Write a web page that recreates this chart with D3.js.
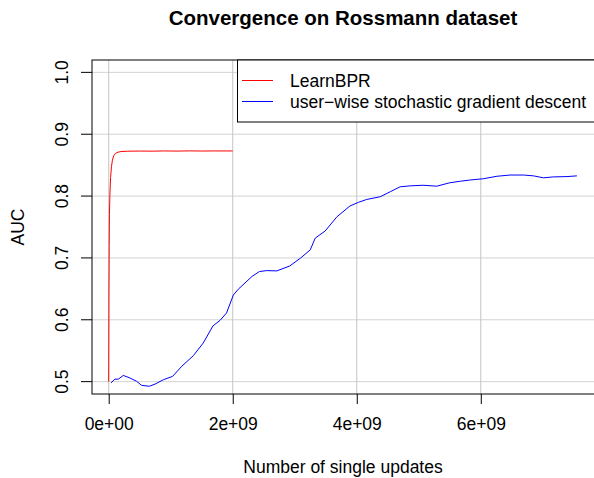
<!DOCTYPE html>
<html>
<head>
<meta charset="utf-8">
<script src="https://cdn.jsdelivr.net/npm/d3@7"></script>
<style>
  body { margin: 0; background: #fff; }
  text { font-family: "Liberation Sans", Arial, sans-serif; }
</style>
</head>
<body>
<div id="chart"></div>
<script>
// LearnBPR convergence (updates, AUC)
var bprX = [0, 0.004e9, 0.008e9, 0.012e9, 0.02e9, 0.03e9, 0.045e9, 0.06e9, 0.08e9, 0.11e9, 0.15e9, 0.2e9, 0.3e9,
            0.5e9, 0.7e9, 0.9e9, 1.1e9, 1.3e9, 1.5e9, 1.7e9, 1.9e9, 2.0e9];
var bprY = [0.5, 0.64, 0.72, 0.77, 0.805, 0.83, 0.848, 0.858, 0.865, 0.869, 0.871, 0.872, 0.8725,
            0.8728, 0.8726, 0.873, 0.8727, 0.8731, 0.8728, 0.873, 0.8729, 0.873];

// user-wise SGD convergence
var sgdX = [0.037e9, 0.10e9, 0.155e9, 0.235e9, 0.34e9, 0.45e9, 0.53e9, 0.655e9, 0.747e9, 0.88e9, 1.03e9,
            1.18e9, 1.365e9, 1.525e9, 1.68e9, 1.795e9, 1.90e9, 2.01e9, 2.09e9, 2.31e9, 2.43e9, 2.55e9,
            2.71e9, 2.92e9, 3.09e9, 3.25e9, 3.33e9, 3.49e9, 3.68e9, 3.89e9, 4.03e9, 4.16e9, 4.38e9,
            4.54e9, 4.70e9, 4.86e9, 5.07e9, 5.29e9, 5.50e9, 5.67e9, 5.83e9, 6.04e9, 6.26e9, 6.47e9,
            6.69e9, 6.85e9, 7.01e9, 7.17e9, 7.39e9, 7.55e9];
var sgdY = [0.498, 0.504, 0.504, 0.510, 0.506, 0.5005, 0.494, 0.4925, 0.496, 0.503, 0.5085,
            0.525, 0.542, 0.5625, 0.590, 0.599, 0.611, 0.640, 0.6495, 0.670, 0.678, 0.6795,
            0.679, 0.687, 0.6995, 0.713, 0.732, 0.7435, 0.7665, 0.784, 0.790, 0.7945, 0.799,
            0.807, 0.815, 0.8165, 0.8175, 0.816, 0.8215, 0.824, 0.826, 0.828, 0.832, 0.834,
            0.834, 0.8327, 0.8295, 0.831, 0.8315, 0.8327];

var xTicks = [0, 2e9, 4e9, 6e9];
var xTickLabels = ["0e+00", "2e+09", "4e+09", "6e+09"];
var yTicks = [0.5, 0.6, 0.7, 0.8, 0.9, 1.0];
var yTickLabels = ["0.5", "0.6", "0.7", "0.8", "0.9", "1.0"];
var seriesNames = ["LearnBPR", "user\u2212wise stochastic gradient descent"];
var seriesColors = ["#ff0000", "#0000ff"];

var width = 594, height = 478;
var pLeft = 92, pTop = 60, pRight = 598, pBottom = 394;
var fs = 17.5;

var svg = d3.select("#chart").append("svg")
    .attr("width", width).attr("height", height);

var x = d3.scaleLinear().domain([-0.2694e9, 7.89e9]).range([pLeft, pRight]);
var y = d3.scaleLinear().domain([0.48, 1.02]).range([pBottom, pTop]);

// grid
svg.append("g").selectAll("line").data(yTicks).enter().append("line")
    .attr("x1", pLeft).attr("x2", pRight)
    .attr("y1", d => y(d)).attr("y2", d => y(d))
    .attr("stroke", "#d3d3d3").attr("stroke-width", 1);
svg.append("g").selectAll("line").data(xTicks).enter().append("line")
    .attr("x1", d => x(d)).attr("x2", d => x(d))
    .attr("y1", pTop).attr("y2", pBottom)
    .attr("stroke", "#c4c4c4").attr("stroke-width", 1);

// lines
var line = d3.line().x(d => x(d[0])).y(d => y(d[1]));
var series = [d3.zip(bprX, bprY), d3.zip(sgdX, sgdY)];
series.forEach(function(s, i) {
    svg.append("path").datum(s)
        .attr("d", line)
        .attr("fill", "none")
        .attr("stroke", seriesColors[i])
        .attr("stroke-width", 1);
});

// box
svg.append("rect")
    .attr("x", pLeft).attr("y", pTop)
    .attr("width", pRight - pLeft).attr("height", pBottom - pTop)
    .attr("fill", "none").attr("stroke", "#000").attr("stroke-width", 1);

// axes
var xAxis = d3.axisBottom(x).tickValues(xTicks)
    .tickFormat((d, i) => xTickLabels[i]).tickSize(10).tickPadding(14);
var gx = svg.append("g").attr("transform", "translate(0," + pBottom + ")").call(xAxis);
gx.select(".domain").remove();
gx.selectAll("text").attr("font-size", fs).attr("fill", "#000")
    .style("font-family", "Liberation Sans, Arial, sans-serif");

var yAxis = d3.axisLeft(y).tickValues(yTicks)
    .tickFormat((d, i) => yTickLabels[i]).tickSize(11).tickPadding(0);
var gy = svg.append("g").attr("transform", "translate(" + pLeft + ",0)").call(yAxis);
gy.select(".domain").remove();
gy.selectAll(".tick").attr("transform", null);
gy.selectAll(".tick line").attr("y1", d => y(d)).attr("y2", d => y(d));
gy.selectAll("text")
    .attr("font-size", fs).attr("fill", "#000")
    .attr("x", 0).attr("y", 0).attr("dy", null)
    .attr("text-anchor", "middle")
    .attr("transform", d => "translate(-24," + y(d) + ") rotate(-90)")
    .style("font-family", "Liberation Sans, Arial, sans-serif");

// legend
var lg = svg.append("g");
lg.append("rect")
    .attr("x", 237.5).attr("y", pTop).attr("width", 400).attr("height", 62)
    .attr("fill", "#fff").attr("stroke", "#000");
seriesNames.forEach(function(n, i) {
    var ly = 80.5 + i * 21;
    lg.append("line").attr("x1", 242).attr("x2", 273).attr("y1", ly).attr("y2", ly)
        .attr("stroke", seriesColors[i]).attr("stroke-width", 1);
    lg.append("text").attr("x", 290).attr("y", ly + 6)
        .attr("font-size", fs).text(n);
});

// titles
svg.append("text").attr("x", (pLeft + 594) / 2).attr("y", 25)
    .attr("text-anchor", "middle").attr("font-size", 20.5).attr("font-weight", "bold")
    .text("Convergence on Rossmann dataset");
svg.append("text").attr("x", (pLeft + 594) / 2).attr("y", 473)
    .attr("text-anchor", "middle").attr("font-size", fs)
    .text("Number of single updates");
svg.append("text").attr("transform", "translate(24," + ((pTop + pBottom) / 2) + ") rotate(-90)")
    .attr("text-anchor", "middle").attr("font-size", fs)
    .text("AUC");
</script>
</body>
</html>
